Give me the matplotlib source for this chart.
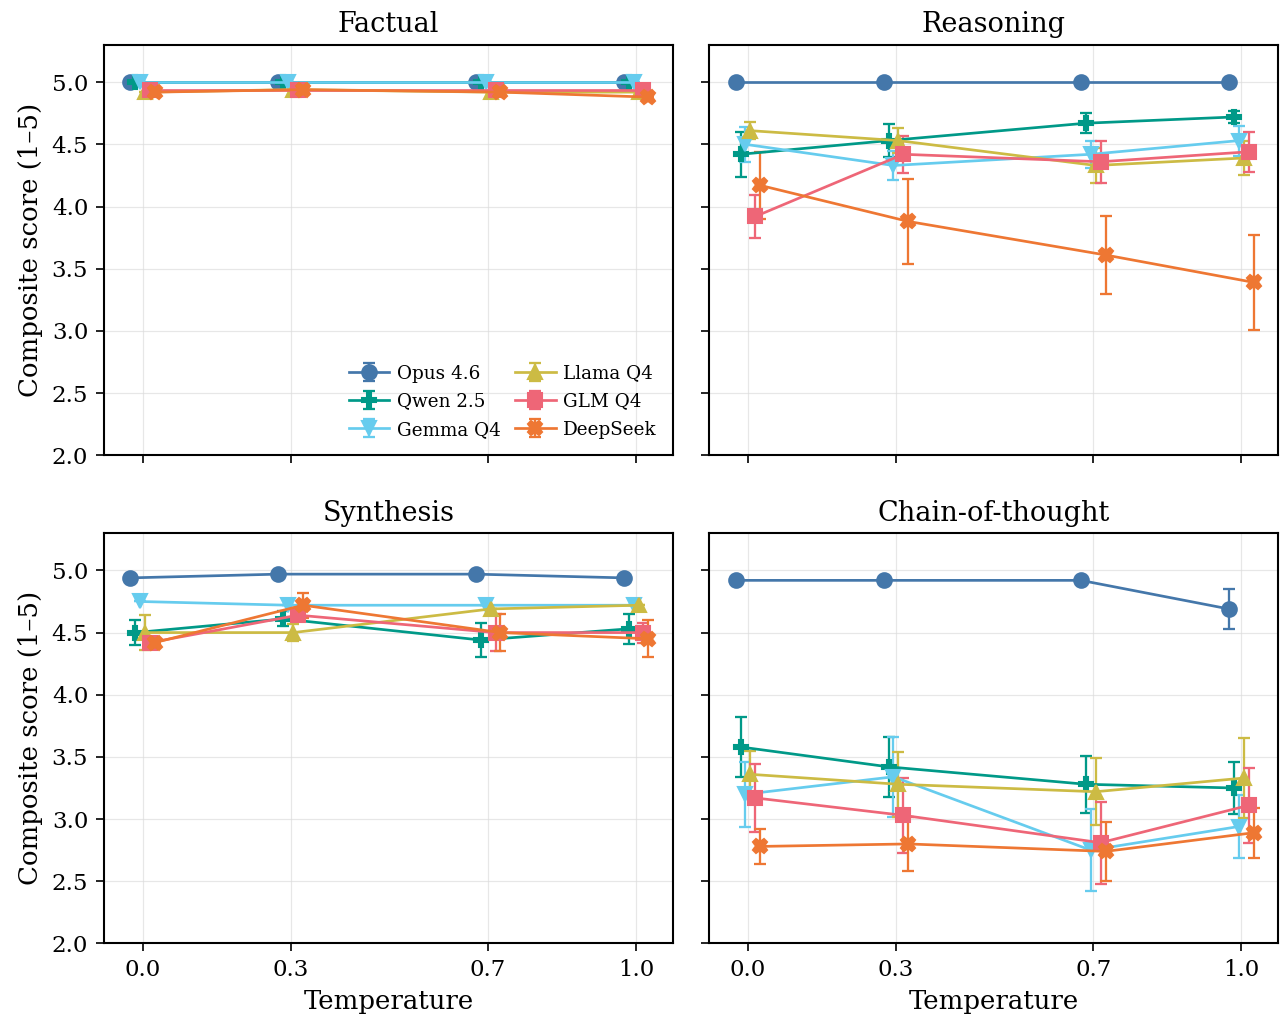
import matplotlib
matplotlib.use("Agg")
import matplotlib.pyplot as plt
import numpy as np

plt.rcParams['font.family'] = ['DejaVu Serif']

temps = [0.0, 0.3, 0.7, 1.0]
models = ['Opus 4.6', 'Qwen 2.5', 'Gemma Q4', 'Llama Q4', 'GLM Q4', 'DeepSeek']
colors = ['#4477AA', '#009988', '#66CCEE', '#CCBB44', '#EE6677', '#EE7733']
markers = ['o', 'P', 'v', '^', 's', 'X']
tasks = ['Factual', 'Reasoning', 'Synthesis', 'Chain-of-thought']

# mean composite score per model, one row per model, columns = temps
factual = [
    [5.00, 5.00, 5.00, 5.00],
    [5.00, 5.00, 5.00, 5.00],
    [5.00, 5.00, 5.00, 5.00],
    [4.92, 4.94, 4.92, 4.92],
    [4.94, 4.94, 4.94, 4.94],
    [4.92, 4.94, 4.92, 4.88],
]
factual_err = [[0, 0, 0, 0]] * 6

reasoning = [
    [5.00, 5.00, 5.00, 5.00],
    [4.42, 4.53, 4.67, 4.72],
    [4.50, 4.33, 4.42, 4.53],
    [4.61, 4.53, 4.33, 4.39],
    [3.92, 4.42, 4.36, 4.44],
    [4.17, 3.88, 3.61, 3.39],
]
reasoning_err = [
    [0, 0, 0, 0],
    [0.18, 0.13, 0.08, 0.05],
    [0.14, 0.12, 0.11, 0.12],
    [0.07, 0.10, 0.14, 0.14],
    [0.17, 0.15, 0.17, 0.16],
    [0.27, 0.34, 0.31, 0.38],
]

synthesis = [
    [4.94, 4.97, 4.97, 4.94],
    [4.50, 4.61, 4.44, 4.53],
    [4.75, 4.72, 4.72, 4.72],
    [4.50, 4.50, 4.69, 4.72],
    [4.42, 4.64, 4.50, 4.50],
    [4.42, 4.72, 4.50, 4.45],
]
synthesis_err = [
    [0, 0, 0, 0],
    [0.10, 0.06, 0.14, 0.12],
    [0, 0, 0, 0],
    [0.14, 0.07, 0, 0],
    [0, 0.05, 0.15, 0.08],
    [0, 0.10, 0.15, 0.15],
]

cot = [
    [4.92, 4.92, 4.92, 4.69],
    [3.58, 3.42, 3.28, 3.25],
    [3.20, 3.34, 2.75, 2.94],
    [3.36, 3.28, 3.22, 3.33],
    [3.17, 3.03, 2.81, 3.11],
    [2.78, 2.80, 2.74, 2.89],
]
cot_err = [
    [0, 0, 0, 0.16],
    [0.24, 0.24, 0.23, 0.21],
    [0.26, 0.32, 0.33, 0.25],
    [0.19, 0.26, 0.27, 0.32],
    [0.27, 0.30, 0.33, 0.30],
    [0.14, 0.22, 0.24, 0.20],
]

means = [factual, reasoning, synthesis, cot]
errs = [factual_err, reasoning_err, synthesis_err, cot_err]

fig, axes = plt.subplots(2, 2, figsize=(8.547, 6.807), dpi=150, sharex=True, sharey=True)
fig.subplots_adjust(left=0.081, right=0.997, top=0.956, bottom=0.076, wspace=0.063, hspace=0.19)

for ax, task, m, e in zip(axes.flat, tasks, means, errs):
    for i, name in enumerate(models):
        x = np.array(temps) + (i - 2.5) * 0.01
        ax.errorbar(x, m[i], yerr=e[i], color=colors[i], marker=markers[i],
                    markersize=7, linewidth=1.3, capsize=3, elinewidth=1.1,
                    capthick=1.1, label=name)
    ax.set_title(task, fontsize=13)
    ax.grid(True, color='#dddddd', linewidth=0.6, alpha=0.7)
    ax.set_axisbelow(True)
    ax.tick_params(labelsize=11, length=4)
    for s in ax.spines.values():
        s.set_linewidth(1.0)

ax0 = axes[0, 0]
ax0.set_xlim(-0.079, 1.075)
ax0.set_ylim(2.0, 5.3)
ax0.set_xticks(temps)
ax0.set_xticklabels(['0.0', '0.3', '0.7', '1.0'])
ax0.set_yticks([2.0, 2.5, 3.0, 3.5, 4.0, 4.5, 5.0])

for ax in axes[:, 0]:
    ax.set_ylabel('Composite score (1–5)', fontsize=12.5)
for ax in axes[1, :]:
    ax.set_xlabel('Temperature', fontsize=12.5)

ax0.legend(loc='lower right', ncol=2, fontsize=8.8, frameon=False,
           handlelength=2.2, columnspacing=0.8, handletextpad=0.4, labelspacing=0.55)

fig.savefig('out.png', dpi=150)
